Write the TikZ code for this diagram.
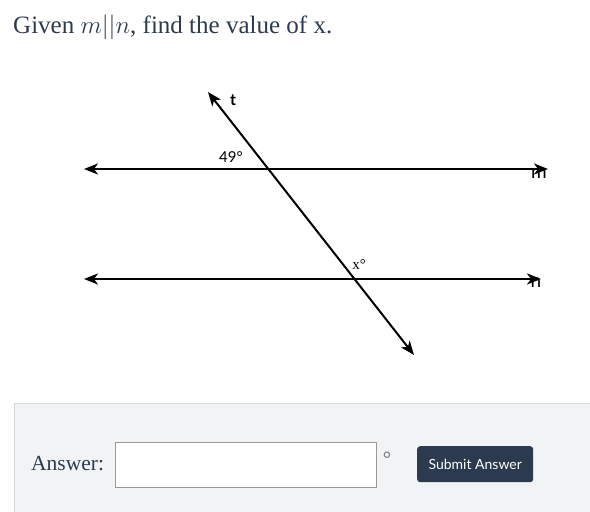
\documentclass[tikz,border=0pt]{standalone}
\usepackage{fontspec}
\setmainfont{Liberation Serif}
\newfontfamily\lblfont{Lato}
\usetikzlibrary{arrows.meta}
\definecolor{ink}{HTML}{2D3B4E}
\definecolor{panel}{HTML}{F2F3F5}
\definecolor{panelline}{HTML}{D3D6DA}
\definecolor{btn}{HTML}{2B3A4F}
\tikzset{
  geo/.style={line width=2pt, black},
  twoway/.style={geo, {Stealth[length=14pt,width=11pt,inset=4pt]}-{Stealth[length=14pt,width=11pt,inset=4pt]}},
  lbl/.style={font=\lblfont\fontsize{15}{17}\selectfont, inner sep=0pt},
  side/.style={font=\lblfont\fontsize{19}{21}\selectfont, inner sep=0pt},
}
\begin{document}
\begin{tikzpicture}[x=1pt,y=-1pt]
\useasboundingbox (0,0) rectangle (590,512);
\fill[white] (0,0) rectangle (590,512);
% title
\node[anchor=base west, inner sep=0pt, text=ink, font=\fontsize{25}{29}\selectfont] (title) at (13,33) {Given $m||n$, find the value of x.};
% lines
\coordinate (mL) at (84,169);
\coordinate (mR) at (548,169);
\coordinate (nL) at (84,279);
\coordinate (nR) at (541,279);
\coordinate (tT) at (208,92);
\coordinate (tB) at (414,355);
\draw[twoway] (mL) -- (mR);
\draw[twoway] (nL) -- (nR);
\draw[twoway] (tT) -- (tB);
\node[side] (lm) at (539,174) {m};
\node[side] (ln) at (536,283) {n};
\node[lbl, font=\lblfont\bfseries\fontsize{16}{18}\selectfont] (lt) at (233,100) {t};
\node[lbl] (a49) at (231,157) {49°};
\node[lbl, font=\fontsize{15}{17}\selectfont] (ax) at (359,265) {x°};
% answer panel
\fill[panel] (14,403) rectangle (590,512);
\draw[panelline, line width=1pt] (14,512) -- (14,403) -- (590,403);
\node[anchor=base west, inner sep=0pt, text=ink, font=\fontsize{21.5}{24}\selectfont] (ans) at (31,470) {Answer:};
\node[draw=gray!80, fill=white, line width=0.8pt, minimum width=261pt, minimum height=45pt, inner sep=0pt, anchor=north west] (box) at (115,442) {};
\node[inner sep=0pt, text=gray, font=\lblfont\fontsize{20}{22}\selectfont] (deg) at (387,459) {°};
\node[fill=btn, rounded corners=3pt, minimum width=116pt, minimum height=36pt, inner sep=0pt, text=white, font=\lblfont\fontsize{14}{16}\selectfont, anchor=north west] (submit) at (417,446) {Submit Answer};
\end{tikzpicture}
\end{document}
